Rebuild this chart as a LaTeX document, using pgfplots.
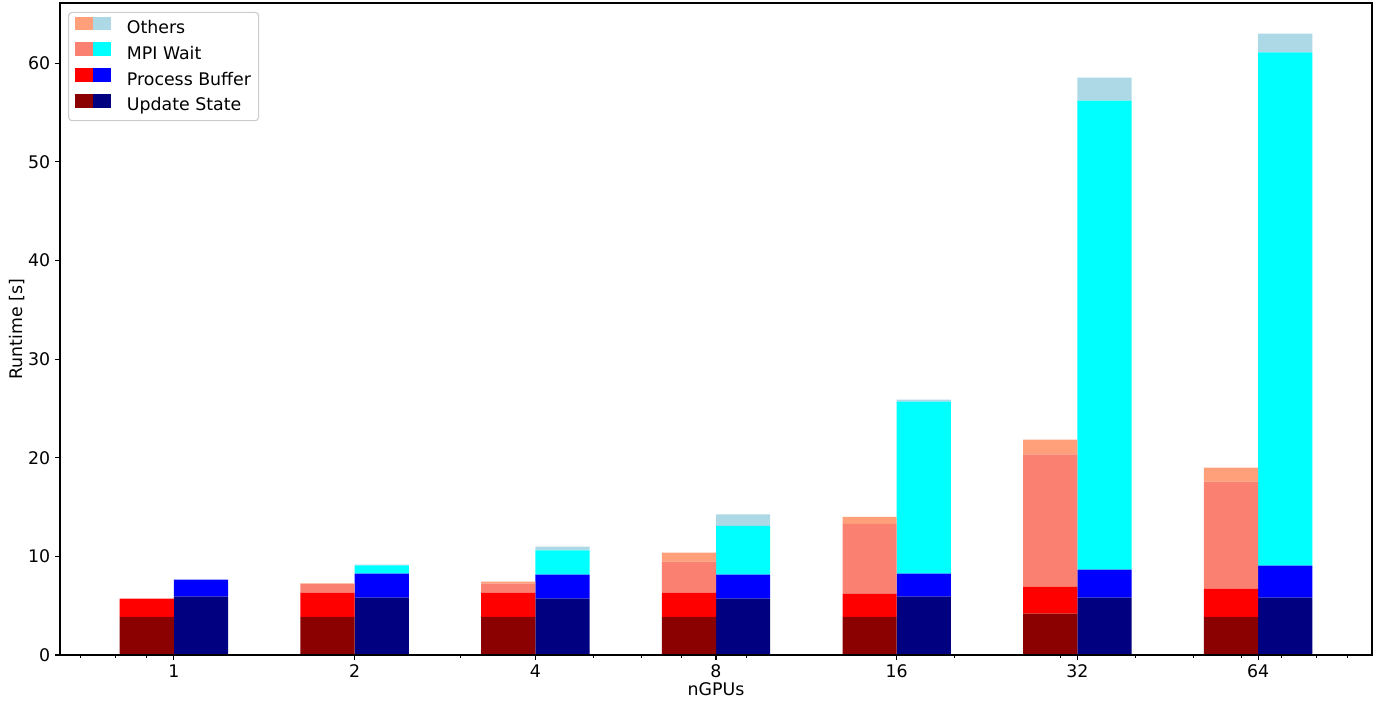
\documentclass[border=0pt]{standalone}
\usepackage{fontspec}
\setmainfont{DejaVu Sans}
\usepackage{pgfplots}
\usepackage{pgfplotstable}
\pgfplotsset{compat=1.18}

\definecolor{cDarkRed}{HTML}{8B0000}
\definecolor{cRed}{HTML}{FF0000}
\definecolor{cSalmon}{HTML}{FA8072}
\definecolor{cLightSalmon}{HTML}{FFA07A}
\definecolor{cNavy}{HTML}{000080}
\definecolor{cBlue}{HTML}{0000FF}
\definecolor{cCyan}{HTML}{00FFFF}
\definecolor{cLightBlue}{HTML}{ADD8E6}

% runtime breakdown per GPU count (x = log2 nGPUs), seconds
% left bar of each pair
\pgfplotstableread{
x us   pb   mpi   oth
0 3.88 1.83 0     0
1 3.88 2.44 0.88  0.06
2 3.88 2.44 0.91  0.20
3 3.88 2.44 3.14  0.91
4 3.88 2.34 7.08  0.70
5 4.19 2.74 13.42 1.49
6 3.88 2.84 10.86 1.42
}\runA
% right bar of each pair
\pgfplotstableread{
x us   pb   mpi   oth
0 5.92 1.72 0     0
1 5.81 2.44 0.84  0.07
2 5.71 2.43 2.46  0.40
3 5.71 2.43 4.96  1.17
4 5.92 2.33 17.45 0.20
5 5.81 2.84 47.55 2.35
6 5.81 3.25 52.04 1.90
}\runB

\newcommand{\lblfont}{\fontsize{12.5}{15}\selectfont}

\pgfplotsset{
  rtbase/.style={
    at={(0,0)}, anchor=south west,
    scale only axis, width=944.6pt, height=469.4pt,
    xmin=-0.63, xmax=6.63, ymin=0, ymax=66.1,
    ybar stacked, bar width=0.3,
  },
  swatch/.style 2 args={legend image code/.code={
    \fill[#1, sharp corners, fill opacity=1] (0pt,-0.3pt) rectangle (12.7pt,8.8pt);
    \fill[#2, sharp corners, fill opacity=1] (12.7pt,-0.3pt) rectangle (25.4pt,8.8pt);}},
}

\begin{document}
\begin{tikzpicture}
\useasboundingbox (-43.2pt,-34.6pt) rectangle (951.8pt,471.6pt);

% right-hand stack
\begin{axis}[rtbase, hide axis, bar shift=0.15]
\addplot[fill=cNavy, draw=none, forget plot] table[x=x, y=us] {\runB};
\addplot[fill=cBlue, draw=none, forget plot] table[x=x, y=pb] {\runB};
\addplot[fill=cCyan, draw=none, forget plot] table[x=x, y=mpi] {\runB};
\addplot[fill=cLightBlue, draw=none, forget plot] table[x=x, y=oth] {\runB};
\end{axis}

% left-hand stack with frame, ticks and legend
\begin{axis}[rtbase, bar shift=-0.15, axis on top,
  axis line style={line width=0.8pt},
  tick align=outside, tick pos=left,
  major tick length=3.5pt, minor tick length=2pt,
  every tick/.style={black, line width=0.8pt},
  minor tick style={black, line width=0.6pt},
  xtick={0,1,2,3,4,5,6},
  xticklabels={1,2,4,8,16,32,64},
  minor xtick={-0.5146,-0.3219,-0.1520,1.5850,2.3219,2.5850,2.8074,3.1699,
    4.3219,4.9069,5.3219,5.6439,5.9069,6.1293,6.3219,6.4919},
  ytick={0,10,20,30,40,50,60},
  /pgf/number format/assume math mode=true,
  ticklabel style={font=\lblfont},
  xlabel={nGPUs}, ylabel={Runtime [s]},
  every axis x label/.style={at={(axis description cs:0.5,-0.0529)}, anchor=center,
    font=\lblfont},
  every axis y label/.style={at={(axis description cs:-0.0329,0.5)}, rotate=90, anchor=center,
    font=\lblfont},
  legend style={at={(0,1)}, anchor=north west, xshift=5.8pt, yshift=-6.3pt,
    draw=black!20, line width=0.8pt, rounded corners=2.5pt,
    fill=white, fill opacity=0.8, text opacity=1,
    font=\lblfont,
    inner xsep=4.5pt, inner ysep=3pt, row sep=2.4pt,
    nodes={inner sep=1pt, text height=9pt, text depth=3pt},
    /tikz/every odd column/.style={column sep=10.3pt},
    cells={anchor=west}},
  legend cell align=left,
]
\addplot[fill=cDarkRed, draw=none, forget plot] table[x=x, y=us] {\runA};
\addplot[fill=cRed, draw=none, forget plot] table[x=x, y=pb] {\runA};
\addplot[fill=cSalmon, draw=none, forget plot] table[x=x, y=mpi] {\runA};
\addplot[fill=cLightSalmon, draw=none, forget plot] table[x=x, y=oth] {\runA};

\addlegendimage{swatch={cLightSalmon}{cLightBlue}}
\addlegendentry{Others}
\addlegendimage{swatch={cSalmon}{cCyan}}
\addlegendentry{MPI Wait}
\addlegendimage{swatch={cRed}{cBlue}}
\addlegendentry{Process Buffer}
\addlegendimage{swatch={cDarkRed}{cNavy}}
\addlegendentry{Update State}
\end{axis}
\end{tikzpicture}
\end{document}
